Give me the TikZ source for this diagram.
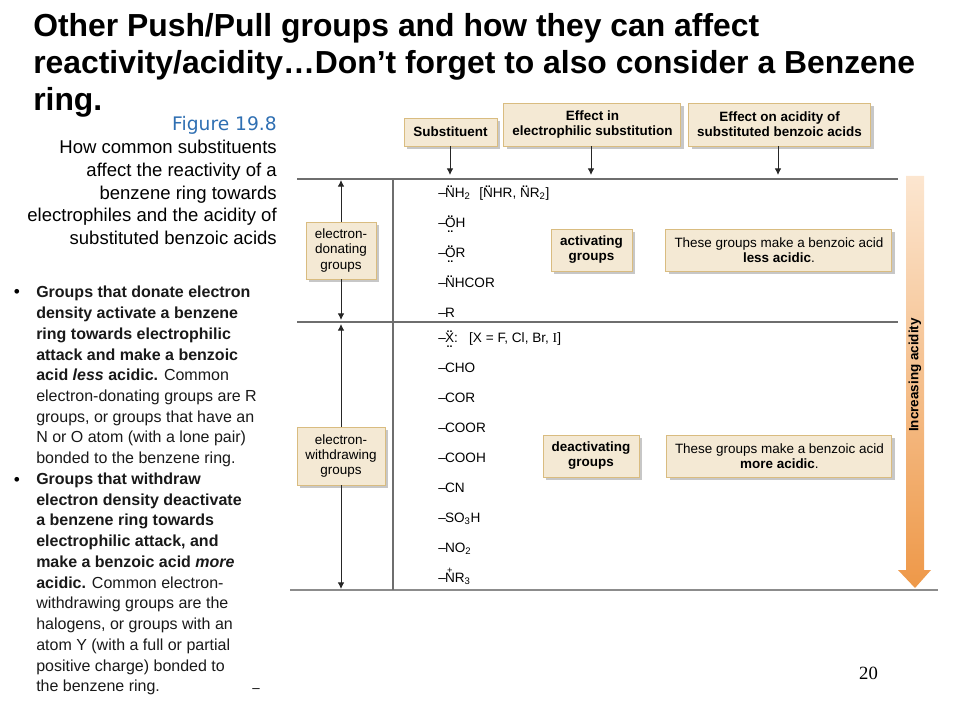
\documentclass[tikz,border=0pt]{standalone}
\usepackage{fontspec}
\usepackage{xcolor}
\setmainfont{Liberation Sans}
\newfontfamily\pagefont{Liberation Serif}
\newfontfamily\figfont{DejaVu Sans}
\usetikzlibrary{positioning,arrows.meta,shadows}
\definecolor{boxfill}{RGB}{244,233,212}
\definecolor{boxedge}{RGB}{217,188,128}
\definecolor{figblue}{RGB}{47,111,178}
\definecolor{rulegray}{RGB}{110,110,110}
\definecolor{arrowtop}{RGB}{252,230,208}
\definecolor{arrowbottom}{RGB}{238,152,72}
\newcommand{\lpup}[1]{\ooalign{#1\cr\hidewidth\raisebox{.8em}{\fontsize{8}{8}\selectfont\bfseries..}\hidewidth\cr}}
\newcommand{\lpboth}[1]{\ooalign{#1\cr\hidewidth\raisebox{.8em}{\fontsize{8}{8}\selectfont\bfseries..}\hidewidth\cr\hidewidth\raisebox{-.3em}{\fontsize{8}{8}\selectfont\bfseries..}\hidewidth\cr}}
\newcommand{\chplus}[1]{\ooalign{#1\cr\hidewidth\raisebox{.7em}{\fontsize{7}{7}\selectfont +}\hidewidth\cr}}
\newcommand{\bond}{\textendash\kern-.6pt}
\def\px{0.75pt}

\begin{document}
\begin{tikzpicture}[
            x=0.75pt, y=-0.75pt,
            tagbox/.style={rectangle, draw=boxedge, fill=boxfill, line width=0.7pt, inner sep=0pt,
                        align=center, font=\fontsize{10.1}{11.3}\selectfont,
                        drop shadow={shadow xshift=2.4pt, shadow yshift=-2.4pt, fill=black, opacity=0.22}},
            hdrbox/.style={tagbox, font=\fontsize{10.1}{11.3}\selectfont\bfseries},
            subst/.style={anchor=west, inner sep=0pt, font=\fontsize{10.2}{12}\selectfont,
                        text height=8pt, text depth=14.1pt},
            rule/.style={draw=rulegray, line width=1pt},
            link/.style={black!85, line width=0.7pt, -{Latex[length=5pt,width=5pt]}}
        ]
            \useasboundingbox (0,0) rectangle (960,720);

            % heading and side text
            \node[anchor=north west, inner sep=0pt, align=left, font=\fontsize{23.9}{27.8}\selectfont\bfseries] (title) at (33,13) {
                Other Push/Pull groups and how they can affect \\
                reactivity/acidity…Don’t forget to also consider a Benzene \\
                ring.
            };
            \node[anchor=north east, inner sep=0pt, text=figblue, font=\figfont\fontsize{14}{16}\selectfont] (figno) at (277,116) {Figure 19.8};
            \node[anchor=north east, inner sep=0pt, align=right, font=\fontsize{13.9}{17}\selectfont] (caption) at (277,140) {
                How common substituents \\
                affect the reactivity of a \\
                benzene ring towards \\
                electrophiles and the acidity of \\
                substituted benzoic acids
            };
            \node[anchor=north west, inner sep=0pt, align=left, text=black!90, font=\fontsize{12}{15.55}\selectfont] (notes) at (36,286) {
                \textbf{Groups that donate electron} \\
                \textbf{density activate a benzene} \\
                \textbf{ring towards electrophilic} \\
                \textbf{attack and make a benzoic} \\
                \textbf{acid \textit{less} acidic.} Common \\
                electron-donating groups are R \\
                groups, or groups that have an \\
                N or O atom (with a lone pair) \\
                bonded to the benzene ring. \\
                \textbf{Groups that withdraw} \\
                \textbf{electron density deactivate} \\
                \textbf{a benzene ring towards} \\
                \textbf{electrophilic attack, and} \\
                \textbf{make a benzoic acid \textit{more}} \\
                \textbf{acidic.} Common electron- \\
                withdrawing groups are the \\
                halogens, or groups with an \\
                atom Y (with a full or partial \\
                positive charge) bonded to \\
                the benzene ring.
            };
            \node[inner sep=0pt, font=\fontsize{13}{15}\selectfont] (bulletA) at (17,293) {•};
            \node[inner sep=0pt, font=\fontsize{13}{15}\selectfont] (bulletB) at (17,481) {•};
            \node[inner sep=0pt, font=\fontsize{10}{11}\selectfont] (tick) at (256,691) {–};
            \node[inner sep=0pt, font=\pagefont\fontsize{14}{16}\selectfont] (pageno) at (868.5,673) {20};

            % table rules
            \coordinate (topL) at (297,179);
            \coordinate (topR) at (898,179);
            \coordinate (midL) at (297,322);
            \coordinate (midR) at (898,322);
            \coordinate (botL) at (290,590);
            \coordinate (botR) at (938,590);
            \coordinate (colT) at (393,179);
            \coordinate (colB) at (393,590);
            \draw[rule] (topL) -- (topR);
            \draw[rule] (midL) -- (midR);
            \draw[rule, draw=black!45] (botL) -- (botR);
            \draw[rule] (colT) -- (colB);

            % header boxes
            \node[hdrbox, minimum width=93*\px, minimum height=28*\px] (substituent) at (450.5,132) {Substituent};
            \node[hdrbox, minimum width=177*\px, minimum height=43*\px, right=4.5pt of substituent.south east, anchor=south west] (effect) {
                Effect in \\ electrophilic substitution
            };
            \node[hdrbox, minimum width=182*\px, minimum height=43*\px, right=5pt of effect] (acidity) {
                Effect on acidity of \\ substituted benzoic acids
            };

            % group boxes
            \node[tagbox, minimum width=70*\px, minimum height=57*\px] (donating) at (341,250.5) {
                electron- \\ donating \\ groups
            };
            \node[tagbox, minimum width=88*\px, minimum height=58*\px] (withdrawing) at (341,456) {
                electron- \\ withdrawing \\ groups
            };
            \node[hdrbox, minimum width=81*\px, minimum height=42*\px] (activating) at (591.5,250) {
                activating \\ groups
            };
            \node[tagbox, minimum width=226*\px, minimum height=42*\px, right=24.75pt of activating] (lessacid) {
                These groups make a benzoic acid \\ \textbf{less acidic}.
            };
            \node[hdrbox, minimum width=96*\px, minimum height=42*\px] (deactivating) at (591,456) {
                deactivating \\ groups
            };
            \node[tagbox, minimum width=225*\px, minimum height=42*\px, right=20.25pt of deactivating] (moreacid) {
                These groups make a benzoic acid \\ \textbf{more acidic}.
            };

            % substituents
            \node[subst] (nh2) at (438,202) {\bond\lpup{N}H\textsubscript{2}\hspace{6.5pt}[\lpup{N}HR, \lpup{N}R\textsubscript{2}]};
            \node[subst, below=0pt of nh2.south west, anchor=north west] (oh) {\bond\lpboth{O}H};
            \node[subst, below=0pt of oh.south west, anchor=north west] (or) {\bond\lpboth{O}R};
            \node[subst, below=0pt of or.south west, anchor=north west] (nhcor) {\bond\lpup{N}HCOR};
            \node[subst, below=0pt of nhcor.south west, anchor=north west] (r) {\bond R};
            \node[subst] (x) at (438,347) {\bond\lpboth{X}\raisebox{.5pt}{:}\hspace{8.5pt}[X = F, Cl, Br, {\pagefont I}]};
            \node[subst, below=0pt of x.south west, anchor=north west] (cho) {\bond CHO};
            \node[subst, below=0pt of cho.south west, anchor=north west] (cor) {\bond COR};
            \node[subst, below=0pt of cor.south west, anchor=north west] (coor) {\bond COOR};
            \node[subst, below=0pt of coor.south west, anchor=north west] (cooh) {\bond COOH};
            \node[subst, below=0pt of cooh.south west, anchor=north west] (cn) {\bond CN};
            \node[subst, below=0pt of cn.south west, anchor=north west] (so3h) {\bond SO\textsubscript{3}H};
            \node[subst, below=0pt of so3h.south west, anchor=north west] (no2) {\bond NO\textsubscript{2}};
            \node[subst, below=0pt of no2.south west, anchor=north west] (nr3) {\bond\chplus{N}R\textsubscript{3}};

            % arrows
            \coordinate (subEnd) at (450,175);
            \coordinate (effEnd) at (591,175);
            \coordinate (acdEnd) at (778,175);
            \draw[link] (substituent.south -| subEnd) -- (subEnd);
            \draw[link] (effect.south -| effEnd) -- (effEnd);
            \draw[link] (acidity.south -| acdEnd) -- (acdEnd);
            \coordinate (donT) at (341,180);
            \coordinate (donB) at (341,320);
            \coordinate (witT) at (341,324);
            \coordinate (witB) at (341,589);
            \draw[link] (donating) -- (donT);
            \draw[link] (donating) -- (donB);
            \draw[link] (withdrawing) -- (witT);
            \draw[link] (withdrawing) -- (witB);

            % acidity arrow
            \shade[top color=arrowtop, bottom color=arrowbottom]
                (906,176) -- (924,176) -- (924,570) -- (931,570) -- (915,588) -- (898,570) -- (906,570) -- cycle;
            \node[inner sep=0pt, rotate=90, font=\fontsize{10.1}{11.3}\selectfont\bfseries] (increasing) at (915,375) {Increasing acidity};
        \end{tikzpicture}
\end{document}
